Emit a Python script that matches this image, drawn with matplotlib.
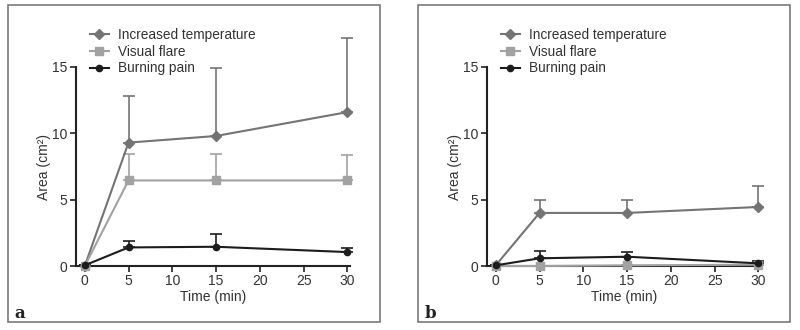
import matplotlib.pyplot as plt
from matplotlib.patches import Rectangle

plt.rcParams['font.family'] = ['Liberation Sans', 'DejaVu Sans']

# Time points (min)
times = [0, 5, 15, 30]

# Panel a: mean and upper error (SD)
temp_a = [0.0, 9.3, 9.8, 11.6]
temp_a_err = [0.0, 3.5, 5.1, 5.6]
flare_a = [0.0, 6.45, 6.45, 6.45]
flare_a_err = [0.0, 2.0, 2.0, 1.95]
pain_a = [0.05, 1.4, 1.45, 1.05]
pain_a_err = [0.0, 0.5, 0.95, 0.3]

# Panel b
temp_b = [0.05, 4.0, 4.0, 4.45]
temp_b_err = [0.0, 0.95, 0.95, 1.6]
flare_b = [0.0, 0.0, 0.05, 0.1]
flare_b_err = [0.0, 0.0, 0.0, 0.0]
pain_b = [0.05, 0.58, 0.7, 0.2]
pain_b_err = [0.0, 0.57, 0.33, 0.15]

series_names = ['Increased temperature', 'Visual flare', 'Burning pain']
colors = ['#747474', '#a2a2a2', '#1c1c1c']
markers = ['D', 's', 'o']
msizes = [5.5, 5.5, 4.5]
text_color = '#333333'

fig = plt.figure(figsize=(8, 3.3), dpi=100)

# panel frames
for x0, x1 in [(8, 380), (418, 790)]:
    fig.patches.append(Rectangle((x0 / 800, 8 / 330), (x1 - x0) / 800, 317 / 330,
                                 transform=fig.transFigure, fill=False,
                                 edgecolor='#7a7a7a', linewidth=1.2))

panels = [
    ('a', 76, [temp_a, flare_a, pain_a], [temp_a_err, flare_a_err, pain_a_err]),
    ('b', 487, [temp_b, flare_b, pain_b], [temp_b_err, flare_b_err, pain_b_err]),
]

for label, left_px, values, errs in panels:
    ax = fig.add_axes([left_px / 800, 64 / 330, 274 / 800, 199 / 330])
    handles = []
    for vals, err, name, c, m, ms in zip(values, errs, series_names, colors, markers, msizes):
        ax.errorbar(times, vals, yerr=[[0] * len(err), err], fmt='none',
                    ecolor=c, elinewidth=1.2, capsize=4, capthick=1.2, clip_on=False)
        h, = ax.plot(times, vals, color=c, marker=m, markersize=ms, linewidth=1.5,
                     label=name, clip_on=False, zorder=3)
        handles.append(h)
    ax.set_xlim(-1, 30.3)
    ax.set_ylim(0, 15)
    ax.set_xticks([0, 5, 10, 15, 20, 25, 30])
    ax.set_yticks([0, 5, 10, 15])
    for s in ['top', 'right']:
        ax.spines[s].set_visible(False)
    for s in ['left', 'bottom']:
        ax.spines[s].set_linewidth(1.5)
        ax.spines[s].set_color('#222222')
    ax.tick_params(direction='out', length=4, width=1.2, labelsize=10,
                   labelcolor=text_color, color='#222222', pad=2)
    ax.set_xlabel('Time (min)', fontsize=10, color=text_color, labelpad=1)
    ax.set_ylabel('Area (cm²)', fontsize=10, color=text_color, labelpad=1)
    ax.legend(handles=handles, loc='lower left', bbox_to_anchor=(0.03, 0.93),
              frameon=False, fontsize=9.8, handlelength=1.4, handletextpad=0.7,
              labelspacing=0.2, borderaxespad=0, labelcolor=text_color)
    fig.text((left_px - 62) / 800, 12 / 330, label, fontsize=12, fontweight='bold',
             family='DejaVu Serif', color='#222222')

fig.savefig('out.png', dpi=100)
